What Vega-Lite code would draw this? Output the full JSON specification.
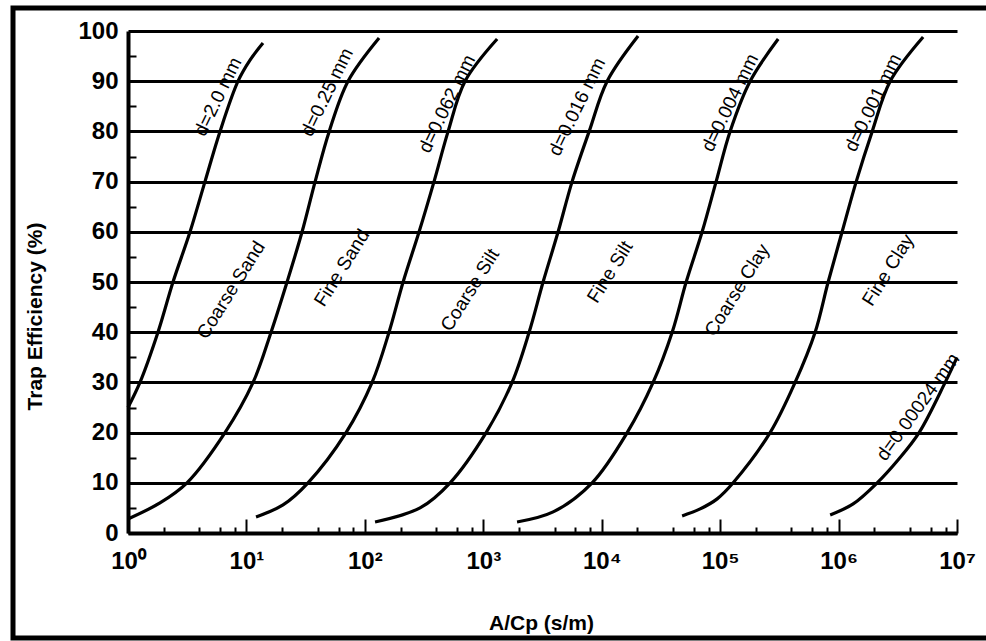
{
  "$schema": "https://vega.github.io/schema/vega-lite/v6.json",
  "autosize": {"type": "fit", "contains": "padding"},
  "width": 986,
  "height": 641,
  "padding": {"left": 13, "top": 8, "right": -4, "bottom": 3},
  "background": "white",
  "config": {
    "view": {"stroke": "black", "strokeWidth": 5},
    "font": "Liberation Sans, Arial, sans-serif"
  },
  "datasets": {
    "curves": [
      {"curve": "d=2.0 mm", "acp": 1.0, "te": 25},
      {"curve": "d=2.0 mm", "acp": 1.262, "te": 30},
      {"curve": "d=2.0 mm", "acp": 1.791, "te": 40},
      {"curve": "d=2.0 mm", "acp": 2.399, "te": 50},
      {"curve": "d=2.0 mm", "acp": 3.342, "te": 60},
      {"curve": "d=2.0 mm", "acp": 4.467, "te": 70},
      {"curve": "d=2.0 mm", "acp": 5.984, "te": 80},
      {"curve": "d=2.0 mm", "acp": 8.492, "te": 90},
      {"curve": "d=2.0 mm", "acp": 10.72, "te": 94.2},
      {"curve": "d=2.0 mm", "acp": 13.8, "te": 97.6},
      {"curve": "d=0.25 mm", "acp": 1.0, "te": 2.8},
      {"curve": "d=0.25 mm", "acp": 1.862, "te": 6.0},
      {"curve": "d=0.25 mm", "acp": 3.148, "te": 10},
      {"curve": "d=0.25 mm", "acp": 6.592, "te": 20},
      {"curve": "d=0.25 mm", "acp": 11.38, "te": 30},
      {"curve": "d=0.25 mm", "acp": 16.14, "te": 40},
      {"curve": "d=0.25 mm", "acp": 22.03, "te": 50},
      {"curve": "d=0.25 mm", "acp": 29.51, "te": 60},
      {"curve": "d=0.25 mm", "acp": 38.02, "te": 70},
      {"curve": "d=0.25 mm", "acp": 50.0, "te": 80},
      {"curve": "d=0.25 mm", "acp": 72.11, "te": 90},
      {"curve": "d=0.25 mm", "acp": 131.8, "te": 98.6},
      {"curve": "d=0.062 mm", "acp": 12.05, "te": 3.2},
      {"curve": "d=0.062 mm", "acp": 20.37, "te": 5.6},
      {"curve": "d=0.062 mm", "acp": 33.11, "te": 10},
      {"curve": "d=0.062 mm", "acp": 69.34, "te": 20},
      {"curve": "d=0.062 mm", "acp": 115.1, "te": 30},
      {"curve": "d=0.062 mm", "acp": 160, "te": 40},
      {"curve": "d=0.062 mm", "acp": 210.4, "te": 50},
      {"curve": "d=0.062 mm", "acp": 287.1, "te": 60},
      {"curve": "d=0.062 mm", "acp": 383.7, "te": 70},
      {"curve": "d=0.062 mm", "acp": 504.7, "te": 80},
      {"curve": "d=0.062 mm", "acp": 701.5, "te": 90},
      {"curve": "d=0.062 mm", "acp": 1309, "te": 98.4},
      {"curve": "d=0.016 mm", "acp": 121.9, "te": 2.2},
      {"curve": "d=0.016 mm", "acp": 292.4, "te": 5.0},
      {"curve": "d=0.016 mm", "acp": 524.8, "te": 10},
      {"curve": "d=0.016 mm", "acp": 1057, "te": 20},
      {"curve": "d=0.016 mm", "acp": 1750, "te": 30},
      {"curve": "d=0.016 mm", "acp": 2438, "te": 40},
      {"curve": "d=0.016 mm", "acp": 3199, "te": 50},
      {"curve": "d=0.016 mm", "acp": 4285, "te": 60},
      {"curve": "d=0.016 mm", "acp": 5623, "te": 70},
      {"curve": "d=0.016 mm", "acp": 7834, "te": 80},
      {"curve": "d=0.016 mm", "acp": 11117, "te": 90},
      {"curve": "d=0.016 mm", "acp": 20277, "te": 99},
      {"curve": "d=0.004 mm", "acp": 1928, "te": 2.2},
      {"curve": "d=0.004 mm", "acp": 3890, "te": 4.2},
      {"curve": "d=0.004 mm", "acp": 8299, "te": 10},
      {"curve": "d=0.004 mm", "acp": 16406, "te": 20},
      {"curve": "d=0.004 mm", "acp": 27164, "te": 30},
      {"curve": "d=0.004 mm", "acp": 39355, "te": 40},
      {"curve": "d=0.004 mm", "acp": 51642, "te": 50},
      {"curve": "d=0.004 mm", "acp": 70469, "te": 60},
      {"curve": "d=0.004 mm", "acp": 92470, "te": 70},
      {"curve": "d=0.004 mm", "acp": 121339, "te": 80},
      {"curve": "d=0.004 mm", "acp": 179061, "te": 90},
      {"curve": "d=0.004 mm", "acp": 309030, "te": 98.4},
      {"curve": "d=0.001 mm", "acp": 47753, "te": 3.4},
      {"curve": "d=0.001 mm", "acp": 67764, "te": 4.8},
      {"curve": "d=0.001 mm", "acp": 94406, "te": 6.8},
      {"curve": "d=0.001 mm", "acp": 128825, "te": 10},
      {"curve": "d=0.001 mm", "acp": 264241, "te": 20},
      {"curve": "d=0.001 mm", "acp": 429536, "te": 30},
      {"curve": "d=0.001 mm", "acp": 633870, "te": 40},
      {"curve": "d=0.001 mm", "acp": 816582, "te": 50},
      {"curve": "d=0.001 mm", "acp": 1071519, "te": 60},
      {"curve": "d=0.001 mm", "acp": 1409289, "te": 70},
      {"curve": "d=0.001 mm", "acp": 1923092, "te": 80},
      {"curve": "d=0.001 mm", "acp": 2728978, "te": 90},
      {"curve": "d=0.001 mm", "acp": 5176068, "te": 98.8},
      {"curve": "d=0.00024 mm", "acp": 849180, "te": 3.6},
      {"curve": "d=0.00024 mm", "acp": 1327394, "te": 5.8},
      {"curve": "d=0.00024 mm", "acp": 2118361, "te": 10},
      {"curve": "d=0.00024 mm", "acp": 3162278, "te": 14.5},
      {"curve": "d=0.00024 mm", "acp": 4786301, "te": 20},
      {"curve": "d=0.00024 mm", "acp": 7943282, "te": 30},
      {"curve": "d=0.00024 mm", "acp": 10000000, "te": 35}
    ],
    "decades": [
      {"acp": 10}, {"acp": 100}, {"acp": 1000}, {"acp": 10000}, {"acp": 100000}, {"acp": 1000000}
    ],
    "sizeLabels": [
      {"label": "d=2.0 mm", "acp": 5.75, "te": 86.9},
      {"label": "d=0.25 mm", "acp": 48, "te": 87.8},
      {"label": "d=0.062 mm", "acp": 494, "te": 85.5},
      {"label": "d=0.016 mm", "acp": 6194, "te": 84.9},
      {"label": "d=0.004 mm", "acp": 121339, "te": 85.7},
      {"label": "d=0.001 mm", "acp": 1959000, "te": 85.7}
    ],
    "finestLabel": [
      {"label": "d=0.00024 mm", "acp": 4699000, "te": 25.1}
    ],
    "classLabels": [
      {"label": "Coarse Sand", "acp": 7.41, "te": 48.4},
      {"label": "Fine Sand", "acp": 64.1, "te": 52.8},
      {"label": "Coarse Silt", "acp": 774, "te": 48.4},
      {"label": "Fine Silt", "acp": 11776, "te": 52},
      {"label": "Coarse Clay", "acp": 139300, "te": 48.4},
      {"label": "Fine Clay", "acp": 2624000, "te": 52.4}
    ]
  },
  "encoding": {
    "x": {
      "field": "acp",
      "type": "quantitative",
      "scale": {"type": "log", "domain": [1, 10000000], "range": [115, 944]},
      "axis": {
        "values": [1, 2, 4, 6, 8, 10, 20, 40, 60, 80, 100, 200, 400, 600, 800, 1000, 2000, 4000, 6000, 8000, 10000, 20000, 40000, 60000, 80000, 100000, 200000, 400000, 600000, 800000, 1000000, 2000000, 4000000, 6000000, 8000000, 10000000],
        "title": "A/Cp (s/m)",
        "offset": -105,
        "grid": false,
        "domainColor": "black",
        "domainWidth": 4,
        "tickColor": "black",
        "tickWidth": 2,
        "tickSize": {"condition": {"test": "abs(log(datum.value)/LN10 - round(log(datum.value)/LN10)) < 0.001", "value": -14}, "value": -6},
        "labelExpr": "abs(log(datum.value)/LN10 - round(log(datum.value)/LN10)) < 0.001 ? '10' + ['⁰','¹','²','³','⁴','⁵','⁶','⁷'][round(log(datum.value)/LN10)] : ''",
        "labelPadding": 30,
        "labelFontSize": 24,
        "labelFontWeight": "bold",
        "labelColor": "black",
        "labelFlush": false,
        "labelOverlap": false,
        "titleFontSize": 21,
        "titleFontWeight": "bold",
        "titleColor": "black",
        "titleX": 528,
        "titleY": 90,
        "titleAlign": "center",
        "titleBaseline": "middle"
      }
    },
    "y": {
      "field": "te",
      "type": "quantitative",
      "scale": {"domain": [0, 100], "range": [525, 23]},
      "axis": {
        "values": [0, 5, 10, 15, 20, 25, 30, 35, 40, 45, 50, 55, 60, 65, 70, 75, 80, 85, 90, 95, 100],
        "title": "Trap Efficiency (%)",
        "offset": -115,
        "domainColor": "black",
        "domainWidth": 4,
        "grid": true,
        "gridColor": "black",
        "gridWidth": 3,
        "gridOpacity": {"condition": {"test": "datum.value % 10 == 0", "value": 1}, "value": 0},
        "tickSize": -8,
        "tickWidth": 2,
        "tickColor": "black",
        "tickOpacity": {"condition": {"test": "datum.value % 10 == 0", "value": 0}, "value": 1},
        "labelExpr": "datum.value % 10 == 0 ? datum.label : ''",
        "labelPadding": 18,
        "labelFontSize": 24,
        "labelFontWeight": "bold",
        "labelColor": "black",
        "labelFlush": false,
        "labelOverlap": false,
        "titleFontSize": 21,
        "titleFontWeight": "bold",
        "titleColor": "black",
        "titleAngle": -90,
        "titleX": -93,
        "titleY": 308,
        "titleAlign": "center",
        "titleBaseline": "middle"
      }
    }
  },
  "layer": [
    {
      "data": {"name": "decades"},
      "mark": {"type": "rule", "stroke": "#8a8a8a", "strokeWidth": 1, "strokeDash": [2, 3]},
      "encoding": {"y": {"datum": 0}, "y2": {"datum": 100}}
    },
    {
      "data": {"values": [{}]},
      "mark": {"type": "rule", "stroke": "black", "strokeWidth": 4},
      "encoding": {"x": {"datum": 10000000}, "y": {"datum": 0}, "y2": {"datum": 100}}
    },
    {
      "data": {"name": "curves"},
      "mark": {"type": "line", "interpolate": "catmull-rom", "stroke": "black", "strokeWidth": 3.2},
      "encoding": {"detail": {"field": "curve"}}
    },
    {
      "data": {"name": "sizeLabels"},
      "mark": {"type": "text", "angle": 296, "fontSize": 19, "align": "center", "baseline": "middle", "color": "black"},
      "encoding": {"text": {"field": "label"}}
    },
    {
      "data": {"name": "finestLabel"},
      "mark": {"type": "text", "angle": 306, "fontSize": 19, "align": "center", "baseline": "middle", "color": "black"},
      "encoding": {"text": {"field": "label"}}
    },
    {
      "data": {"name": "classLabels"},
      "mark": {"type": "text", "angle": 302, "fontSize": 19, "align": "center", "baseline": "middle", "color": "black"},
      "encoding": {"text": {"field": "label"}}
    }
  ]
}
